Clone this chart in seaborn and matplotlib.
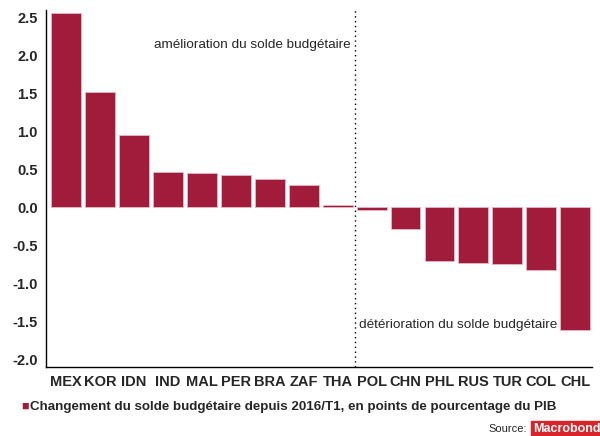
import pandas as pd
import matplotlib.pyplot as plt
import seaborn as sns

sns.set_theme(style="white")
plt.rcParams['font.family'] = ['Liberation Sans', 'DejaVu Sans']

pays = ['MEX', 'KOR', 'IDN', 'IND', 'MAL', 'PER', 'BRA', 'ZAF', 'THA',
        'POL', 'CHN', 'PHL', 'RUS', 'TUR', 'COL', 'CHL']
changement = [2.55, 1.52, 0.95, 0.47, 0.45, 0.43, 0.37, 0.29, 0.03,
              -0.03, -0.28, -0.71, -0.73, -0.75, -0.82, -1.61]
yticks = [-2.0, -1.5, -1.0, -0.5, 0.0, 0.5, 1.0, 1.5, 2.0, 2.5]

df = pd.DataFrame({'pays': pays, 'changement': changement})
rouge = '#A11C3A'

fig = plt.figure(figsize=(6, 4.36), dpi=100)
ax = fig.add_axes([0.077, 0.158, 0.91, 0.82])

sns.barplot(data=df, x='pays', y='changement', color=rouge, saturation=1,
            width=0.88, edgecolor='#e8b8c4', linewidth=0.6, ax=ax)

ax.set_ylim(-2.1, 2.6)
ax.set_xlim(-0.59, 15.5)
ax.set_yticks(yticks)
ax.set_yticklabels([f'{v:.1f}' for v in yticks], fontweight='bold', fontsize=10.5)
ax.set_xlabel('')
ax.set_ylabel('')

# ticks between categories on the x axis
ax.set_xticks([i - 0.5 for i in range(len(pays))], minor=True)
ax.set_xticks(range(len(pays)))
ax.set_xticklabels(pays, fontweight='bold', fontsize=10.5)
ax.tick_params(axis='x', which='major', length=0, pad=6)
ax.tick_params(axis='x', which='minor', length=4, width=0.8, color='black', direction='out')
ax.tick_params(axis='y', length=4, width=0.8, color='black', direction='out', pad=2)

for s in ['top', 'right']:
    ax.spines[s].set_visible(False)
for s in ['left', 'bottom']:
    ax.spines[s].set_color('black')
    ax.spines[s].set_linewidth(1.0)

ax.axvline(8.5, color='black', linestyle=(0, (1, 2.5)), linewidth=1.0)

ax.text(8.38, 2.13, 'amélioration du solde budgétaire', ha='right', va='center', fontsize=9.7)
ax.text(8.62, -1.55, 'détérioration du solde budgétaire', ha='left', va='center', fontsize=9.7)

fig.text(0.035, 0.066, '■', color=rouge, fontsize=9, va='center', ha='left')
fig.text(0.05, 0.066, 'Changement du solde budgétaire depuis 2016/T1, en points de pourcentage du PIB',
         fontweight='bold', fontsize=9.6, va='center', ha='left')
fig.text(0.878, 0.016, 'Source:', fontsize=8, va='center', ha='right')
fig.text(0.888, 0.016, 'Macrobond', fontsize=9, fontweight='bold', color='white',
         va='center', ha='left', fontstretch='condensed',
         bbox=dict(boxstyle='square,pad=0.15', facecolor='#d9242a', edgecolor='#d9242a'))

fig.savefig('out.png', dpi=100)
